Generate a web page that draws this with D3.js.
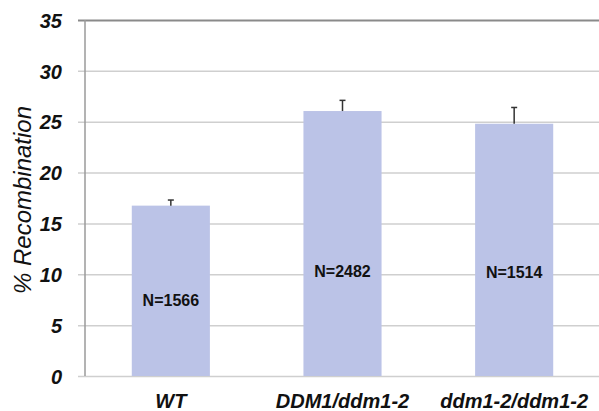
<!DOCTYPE html>
<html>
<head>
<meta charset="utf-8">
<script src="https://cdn.jsdelivr.net/npm/d3@7"></script>
<style>
  html, body { margin: 0; padding: 0; background: #fff; }
  svg { display: block; font-family: "Liberation Sans", Arial, sans-serif; }
</style>
</head>
<body>
<svg id="chart" width="599" height="411"></svg>
<script>
// ---- data ----
const categories = ["WT", "DDM1/ddm1-2", "ddm1-2/ddm1-2"];
const recombination = [16.75, 26.05, 24.8];
const errors = [0.55, 1.05, 1.6];
const sampleLabels = ["N=1566", "N=2482", "N=1514"];
const sampleLabelAt = [6.9, 9.75, 9.6];
const yTicks = [0, 5, 10, 15, 20, 25, 30, 35];
const yTitle = "% Recombination";

// ---- layout ----
const W = 599, H = 411;
const m = { left: 85, right: 0, top: 20, bottom: 35 };
const svg = d3.select("#chart");

const x = d3.scaleBand().domain(categories)
  .range([m.left, 600])
  .paddingInner(0.545).paddingOuter(0.2725);
const y = d3.scaleLinear().domain([0, 35]).range([376, m.top]);

// gridlines + ticks
const yAxis = d3.axisLeft(y).tickValues(yTicks).tickSize(0).tickPadding(0).tickFormat(d3.format("d"));
const gy = svg.append("g").attr("transform", `translate(${m.left},0)`).call(yAxis);
gy.select(".domain").remove();
gy.selectAll(".tick line").remove();
gy.selectAll(".tick").append("line")
  .attr("x1", -7).attr("x2", 599 - m.left)
  .attr("stroke", d => d === 35 ? "#8a8a8a" : "#cfcfcf")
  .attr("stroke-width", d => d === 35 ? 2 : 1.5);
gy.selectAll(".tick text")
  .attr("x", -23).attr("dy", "0.36em")
  .attr("fill", "#111")
  .style("font-size", "20px").style("font-weight", "bold").style("font-style", "italic")
  .style("font-family", "'Liberation Sans', Arial, sans-serif");

// left axis line
svg.append("line")
  .attr("x1", m.left).attr("x2", m.left)
  .attr("y1", y(35)).attr("y2", y(0))
  .attr("stroke", "#9a9a9a").attr("stroke-width", 1.5);

// bars
const data = categories.map((c, i) => ({ c, v: recombination[i], e: errors[i], n: sampleLabels[i], ly: sampleLabelAt[i] }));
svg.append("g").selectAll("rect").data(data).join("rect")
  .attr("x", d => x(d.c)).attr("width", x.bandwidth())
  .attr("y", d => y(d.v)).attr("height", d => y(0) - y(d.v))
  .attr("fill", "#bbc3e7");

// error bars (upper)
const eb = svg.append("g").selectAll("g").data(data).join("g");
eb.append("line")
  .attr("x1", d => x(d.c) + x.bandwidth() / 2).attr("x2", d => x(d.c) + x.bandwidth() / 2)
  .attr("y1", d => y(d.v)).attr("y2", d => y(d.v + d.e))
  .attr("stroke", "#333").attr("stroke-width", 1.5);
eb.append("line")
  .attr("x1", d => x(d.c) + x.bandwidth() / 2 - 3).attr("x2", d => x(d.c) + x.bandwidth() / 2 + 3)
  .attr("y1", d => y(d.v + d.e)).attr("y2", d => y(d.v + d.e))
  .attr("stroke", "#333").attr("stroke-width", 1.5);

// N labels
svg.append("g").selectAll("text").data(data).join("text")
  .attr("x", d => x(d.c) + x.bandwidth() / 2)
  .attr("y", d => y(d.ly))
  .attr("text-anchor", "middle")
  .attr("fill", "#111")
  .style("font-size", "16px").style("font-weight", "bold")
  .text(d => d.n);

// x labels
svg.append("g").selectAll("text").data(categories).join("text")
  .attr("x", d => x(d) + x.bandwidth() / 2)
  .attr("y", 408)
  .attr("text-anchor", "middle")
  .attr("fill", "#111")
  .style("font-size", "20px").style("font-weight", "bold").style("font-style", "italic")
  .text(d => d);

// y title
svg.append("text")
  .attr("transform", `translate(31,200) rotate(-90)`)
  .attr("text-anchor", "middle")
  .attr("fill", "#111")
  .style("font-size", "24px").style("font-style", "italic")
  .text(yTitle);
</script>
</body>
</html>
